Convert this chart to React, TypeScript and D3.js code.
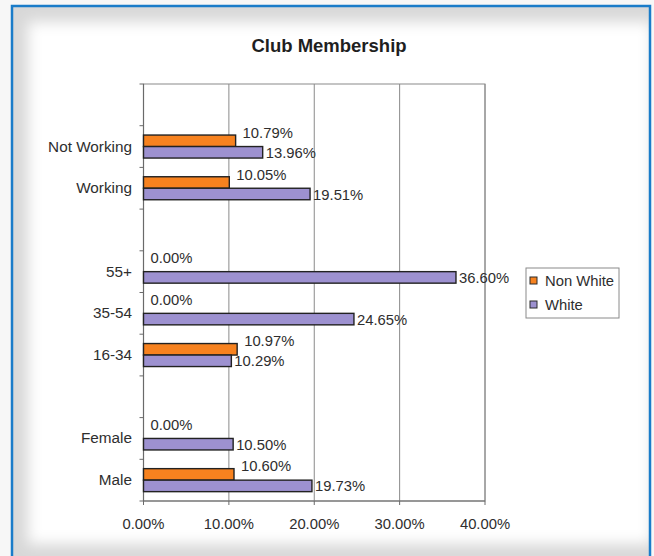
import React from "react";
import * as d3 from "d3";

const slots = ["gapTop", "Not Working", "Working", "gap1", "55+", "35-54", "16-34", "gap2", "Female", "Male"];
const categories = ["Not Working", "Working", "55+", "35-54", "16-34", "Female", "Male"];
const nonWhite = [10.79, 10.05, 0.0, 0.0, 10.97, 0.0, 10.6];
const white = [13.96, 19.51, 36.6, 24.65, 10.29, 10.5, 19.73];
const xTicks = [0, 10, 20, 30, 40];
const seriesNames = ["Non White", "White"];
const colors = ["#F7821F", "#9D91D0"];

const W = 654;
const H = 556;
const plot = { left: 143.5, right: 485, top: 84, bottom: 501 };
const FONT = "'Liberation Sans', Arial, sans-serif";
const FS = 14.8;

export default function App() {
  const x = d3.scaleLinear().domain([0, 40]).range([plot.left, plot.right]);
  const y = d3.scaleBand<string>().domain(slots).range([plot.top, plot.bottom]).paddingInner(0).paddingOuter(0);
  const bw = y.bandwidth();
  const barH = 11.5;
  const fmt = (v: number) => v.toFixed(2) + "%";

  return (
    <svg width={W} height={H} style={{ position: "fixed", left: 0, top: 0 }} fontFamily={FONT}>
      <defs>
        <filter id="blur" x="-10%" y="-10%" width="120%" height="120%">
          <feGaussianBlur stdDeviation="7" />
        </filter>
        <clipPath id="frameClip">
          <rect x={13} y={7} width={636} height={H} />
        </clipPath>
      </defs>
      <rect x={0} y={0} width={W} height={H} fill="#f7f7f7" />
      <g clipPath="url(#frameClip)">
        <rect x={13} y={7} width={636} height={H} fill="#d8d8d8" />
        <rect x={28} y={22} width={624} height={522} fill="#ffffff" filter="url(#blur)" />
      </g>
      <rect x={12} y={6} width={638} height={H + 10} fill="none" stroke="#1a7cc9" strokeWidth={2.5} />

      <text x={329} y={52} textAnchor="middle" fontSize={18.5} fontWeight="bold" fill="#1f1f1f">
        Club Membership
      </text>

      {/* plot area border and gridlines */}
      <rect x={plot.left} y={plot.top} width={plot.right - plot.left} height={plot.bottom - plot.top} fill="#fff" stroke="#8a8a8a" strokeWidth={1} />
      {xTicks.slice(1).map((t) => (
        <line key={"g" + t} x1={x(t)} x2={x(t)} y1={plot.top} y2={plot.bottom} stroke="#8a8a8a" strokeWidth={1} />
      ))}
      {/* axes */}
      <line x1={plot.left} x2={plot.left} y1={plot.top} y2={plot.bottom} stroke="#6a6a6a" strokeWidth={1.2} />
      <line x1={plot.left} x2={plot.right} y1={plot.bottom} y2={plot.bottom} stroke="#6a6a6a" strokeWidth={1.2} />
      {slots.map((s) => (
        <line key={"yt" + s} x1={plot.left - 4} x2={plot.left} y1={y(s)!} y2={y(s)!} stroke="#6a6a6a" />
      ))}
      <line x1={plot.left - 4} x2={plot.left} y1={plot.bottom} y2={plot.bottom} stroke="#6a6a6a" />
      {xTicks.map((t) => (
        <g key={"xt" + t}>
          <line x1={x(t)} x2={x(t)} y1={plot.bottom} y2={plot.bottom + 4} stroke="#6a6a6a" />
          <text x={x(t)} y={plot.bottom + 28} textAnchor="middle" fontSize={FS} fill="#2e2e2e">
            {fmt(t)}
          </text>
        </g>
      ))}

      {categories.map((c, i) => {
        const cy = y(c)! + bw / 2;
        const nw = nonWhite[i];
        const wv = white[i];
        return (
          <g key={c}>
            <text x={132} y={cy + 5} textAnchor="end" fontSize={15.3} fill="#2e2e2e">
              {c}
            </text>
            {nw > 0 && (
              <rect x={x(0)} y={cy - barH} width={x(nw) - x(0)} height={barH} fill={colors[0]} stroke="#222" strokeWidth={1.4} />
            )}
            <rect x={x(0)} y={cy} width={x(wv) - x(0)} height={barH} fill={colors[1]} stroke="#222" strokeWidth={1.4} />
            <text x={x(nw) + 7} y={cy - barH / 2 - 8 + 5} fontSize={FS} fill="#2e2e2e">
              {fmt(nw)}
            </text>
            <text x={x(wv) + 3} y={cy + barH / 2 + 5.5} fontSize={FS} fill="#2e2e2e">
              {fmt(wv)}
            </text>
          </g>
        );
      })}

      {/* legend */}
      <rect x={526} y={268} width={93} height={50} fill="#fff" stroke="#8a8a8a" strokeWidth={1} />
      {seriesNames.map((n, i) => (
        <g key={n}>
          <rect x={530} y={277 + i * 24} width={7} height={7} fill={colors[i]} stroke="#2a2a2a" strokeWidth={1} />
          <text x={545} y={286 + i * 24} fontSize={FS} fill="#2e2e2e">
            {n}
          </text>
        </g>
      ))}
    </svg>
  );
}
